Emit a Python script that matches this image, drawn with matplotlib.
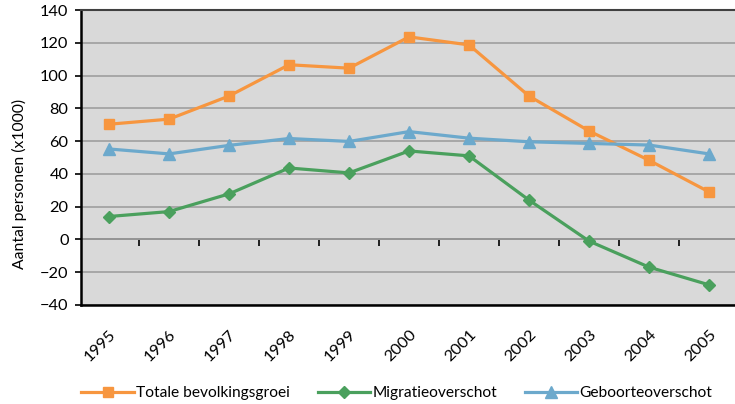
import matplotlib
matplotlib.use('Agg')
import matplotlib.pyplot as plt
import numpy as np

# data (x1000 personen)
years = ['1995', '1996', '1997', '1998', '1999', '2000', '2001', '2002', '2003', '2004', '2005']
totale_groei = [70.3, 73.4, 87.5, 106.6, 104.5, 123.6, 118.7, 87.5, 66.2, 48.3, 29.0]
migratie = [14.0, 17.0, 27.8, 43.6, 40.6, 54.0, 51.0, 24.0, -1.0, -16.9, -27.7]
geboorte = [55.2, 52.2, 57.4, 61.6, 59.8, 65.8, 61.8, 59.6, 58.6, 57.6, 52.2]

plt.rcParams['font.family'] = ['Lato', 'DejaVu Sans']

fig = plt.figure(figsize=(7.35, 4.04), dpi=100)
ax = fig.add_axes([81 / 735, 1 - 305 / 404, 654 / 735, 295 / 404])
ax.set_facecolor('#D9D9D9')

x = np.arange(len(years))
ax.plot(x, totale_groei, color='#F7963F', lw=2.3, marker='s', ms=7, label='Totale bevolkingsgroei')
ax.plot(x, migratie, color='#4AA05D', lw=2.3, marker='D', ms=6.5, label='Migratieoverschot')
ax.plot(x, geboorte, color='#6CA9CC', lw=2.3, marker='^', ms=9, label='Geboorteoverschot')

ax.set_xlim(-0.467, len(years) - 0.567)
ax.set_ylim(-40, 140)
ax.set_yticks(np.arange(-40, 141, 20))
ax.yaxis.grid(True, color='#A3A3A3', lw=1.3)
ax.set_axisbelow(True)
ax.tick_params(axis='y', labelsize=11.8, length=4, width=1.2, color='black', pad=5)

ax.set_xticks(x)
ax.set_xticklabels(years, rotation=45, ha='right', va='top', rotation_mode='anchor', fontsize=11.8)
ax.tick_params(axis='x', length=0, pad=16)

# nul-lijn met streepjes tussen de jaren
zero = ax.secondary_xaxis(0, transform=ax.transData)
zero.set_xticks(x[:-1] + 0.5)
zero.set_xticklabels([])
zero.tick_params(length=5, width=1.2, color='black', direction='out')
zero.spines['bottom'].set_linewidth(1.3)
zero.spines['bottom'].set_color('black')

for s in ['left', 'bottom']:
    ax.spines[s].set_linewidth(1.8)
    ax.spines[s].set_color('black')
ax.spines['top'].set_color('#404040')
ax.spines['top'].set_linewidth(1.5)
ax.spines['right'].set_visible(False)

ax.set_ylabel('Aantal personen (x1000)', fontsize=11.3)
ax.yaxis.set_label_coords(-54 / 654, 1 - (184 - 10) / 295)

fig.legend(loc='center', bbox_to_anchor=(0.54, 1 - 393 / 404), ncol=3, frameon=False, fontsize=11.2,
           handlelength=3.35, columnspacing=1.8, handletextpad=0.15)

fig.savefig('out.png', dpi=100)
